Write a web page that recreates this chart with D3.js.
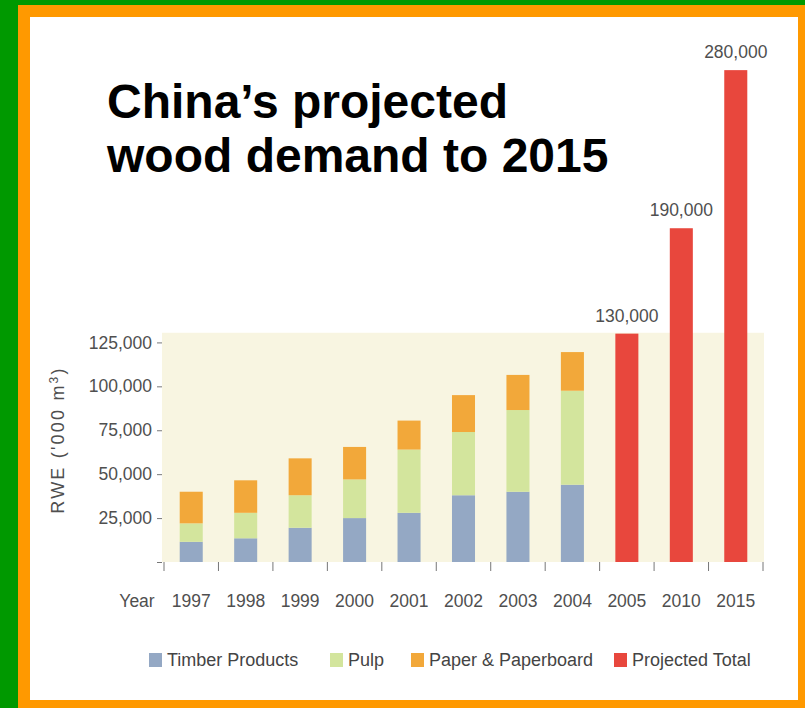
<!DOCTYPE html>
<html>
<head>
<meta charset="utf-8">
<script src="https://cdn.jsdelivr.net/npm/d3@7"></script>
<style>
  html, body { margin: 0; padding: 0; background: #fff; }
  svg { display: block; }
  text { font-family: "Liberation Sans", Arial, Helvetica, sans-serif; }
</style>
</head>
<body>
<svg id="chart" width="805" height="708"></svg>
<script>
// ---- data ----
const years = ["1997", "1998", "1999", "2000", "2001", "2002", "2003", "2004", "2005", "2010", "2015"];
const histYears = ["1997", "1998", "1999", "2000", "2001", "2002", "2003", "2004"];
const timber = [11500, 13500, 19500, 25000, 28000, 38000, 40000, 44000];
const pulp   = [10500, 14500, 18500, 22000, 36000, 36000, 46500, 53500];
const paper  = [18000, 18500, 21000, 18500, 16500, 21000, 20000, 22000];
const projYears = ["2005", "2010", "2015"];
const projected = [130000, 190000, 280000];
const yTicks = [0, 25000, 50000, 75000, 100000, 125000];
const seriesNames = ["Timber Products", "Pulp", "Paper & Paperboard", "Projected Total"];
const seriesColors = ["#94a8c4", "#d3e59d", "#f2a83a", "#e8473d"];
const titleLines = ["China\u2019s projected", "wood demand to 2015"];

// ---- frame ----
const svg = d3.select("#chart");
svg.append("rect").attr("x", 0).attr("y", 0).attr("width", 805).attr("height", 708).attr("fill", "#009900");
svg.append("rect").attr("x", 18).attr("y", 5).attr("width", 787).attr("height", 703).attr("fill", "#ff9900");
svg.append("rect").attr("x", 30).attr("y", 17).attr("width", 768).attr("height", 683).attr("fill", "#ffffff");

// ---- scales ----
const x = d3.scaleBand().domain(years).range([164, 763]).paddingInner(0.577).paddingOuter(0.2885);
const y = d3.scaleLinear().domain([0, 300000]).range([562, 35]);

// plot background
svg.append("rect")
  .attr("x", x.range()[0] - 2).attr("y", y(130500))
  .attr("width", x.range()[1] - x.range()[0] + 3).attr("height", y(0) - y(130500))
  .attr("fill", "#f8f5e1");

const axisColor = "#4f4f4f";

// y axis
const yAxis = d3.axisLeft(y).tickValues(yTicks).tickSize(5).tickPadding(5)
  .tickFormat(d => d === 0 ? "" : d3.format(",")(d));
const gy = svg.append("g").attr("transform", `translate(${x.range()[0] - 2},0)`).call(yAxis);
gy.select(".domain").remove();
gy.selectAll(".tick line").attr("stroke", "#777");
gy.selectAll(".tick text").attr("fill", axisColor).style("font-size", "17.5px")
  .style("font-family", "'Liberation Sans', Arial, sans-serif");

// y title
const yt = svg.append("text")
  .attr("transform", "translate(64,440) rotate(-90)")
  .attr("text-anchor", "middle")
  .attr("fill", axisColor)
  .style("font-size", "18px")
  .style("letter-spacing", "2.2px");
yt.append("tspan").text("RWE ('000 m");
yt.append("tspan").attr("dy", -6).style("font-size", "12px").text("3");
yt.append("tspan").attr("dy", 6).text(")");

// stacked bars
const stackData = histYears.map((yr, i) => ({ year: yr, timber: timber[i], pulp: pulp[i], paper: paper[i] }));
const stack = d3.stack().keys(["timber", "pulp", "paper"])(stackData);
stack.forEach((layer, li) => {
  svg.append("g").attr("fill", seriesColors[li])
    .selectAll("rect").data(layer).join("rect")
    .attr("x", d => x(d.data.year))
    .attr("width", x.bandwidth())
    .attr("y", d => y(d[1]))
    .attr("height", d => y(d[0]) - y(d[1]));
});

// projected bars
const projData = projYears.map((yr, i) => ({ year: yr, value: projected[i] }));
svg.append("g").attr("fill", seriesColors[3])
  .selectAll("rect").data(projData).join("rect")
  .attr("x", d => x(d.year))
  .attr("width", x.bandwidth())
  .attr("y", d => y(d.value))
  .attr("height", d => y(0) - y(d.value));
svg.append("g").selectAll("text").data(projData).join("text")
  .attr("x", d => x(d.year) + x.bandwidth() / 2)
  .attr("y", d => y(d.value) - 12)
  .attr("text-anchor", "middle")
  .attr("fill", axisColor)
  .style("font-size", "17.5px")
  .text(d => d3.format(",")(d.value));

// x axis ticks at band boundaries
const boundaries = years.map(yr => x(yr) - x.step() * x.paddingInner() / 2).concat([x.range()[1]]);
svg.append("g").selectAll("line").data(boundaries).join("line")
  .attr("x1", d => d).attr("x2", d => d)
  .attr("y1", y(0)).attr("y2", y(0) + 9)
  .attr("stroke", "#777").attr("stroke-width", 1);
svg.append("g").selectAll("text").data(years).join("text")
  .attr("x", d => x(d) + x.bandwidth() / 2)
  .attr("y", 607)
  .attr("text-anchor", "middle")
  .attr("fill", axisColor)
  .style("font-size", "17.5px")
  .text(d => d);
svg.append("text").attr("x", 137).attr("y", 607).attr("text-anchor", "middle")
  .attr("fill", axisColor).style("font-size", "17.5px").text("Year");

// title
svg.append("g").selectAll("text").data(titleLines).join("text")
  .attr("x", 107)
  .attr("y", (d, i) => 118 + i * 54)
  .attr("fill", "#000")
  .style("font-size", "48px")
  .style("font-weight", "bold")
  .text(d => d);

// legend
const legendX = [149, 330, 411, 614];
const lg = svg.append("g").selectAll("g").data(seriesNames).join("g")
  .attr("transform", (d, i) => `translate(${legendX[i]},653)`);
lg.append("rect").attr("width", 13).attr("height", 14).attr("fill", (d, i) => seriesColors[i]);
lg.append("text").attr("x", 18).attr("y", 13).attr("fill", "#444")
  .style("font-size", "18px").text(d => d);
</script>
</body>
</html>
